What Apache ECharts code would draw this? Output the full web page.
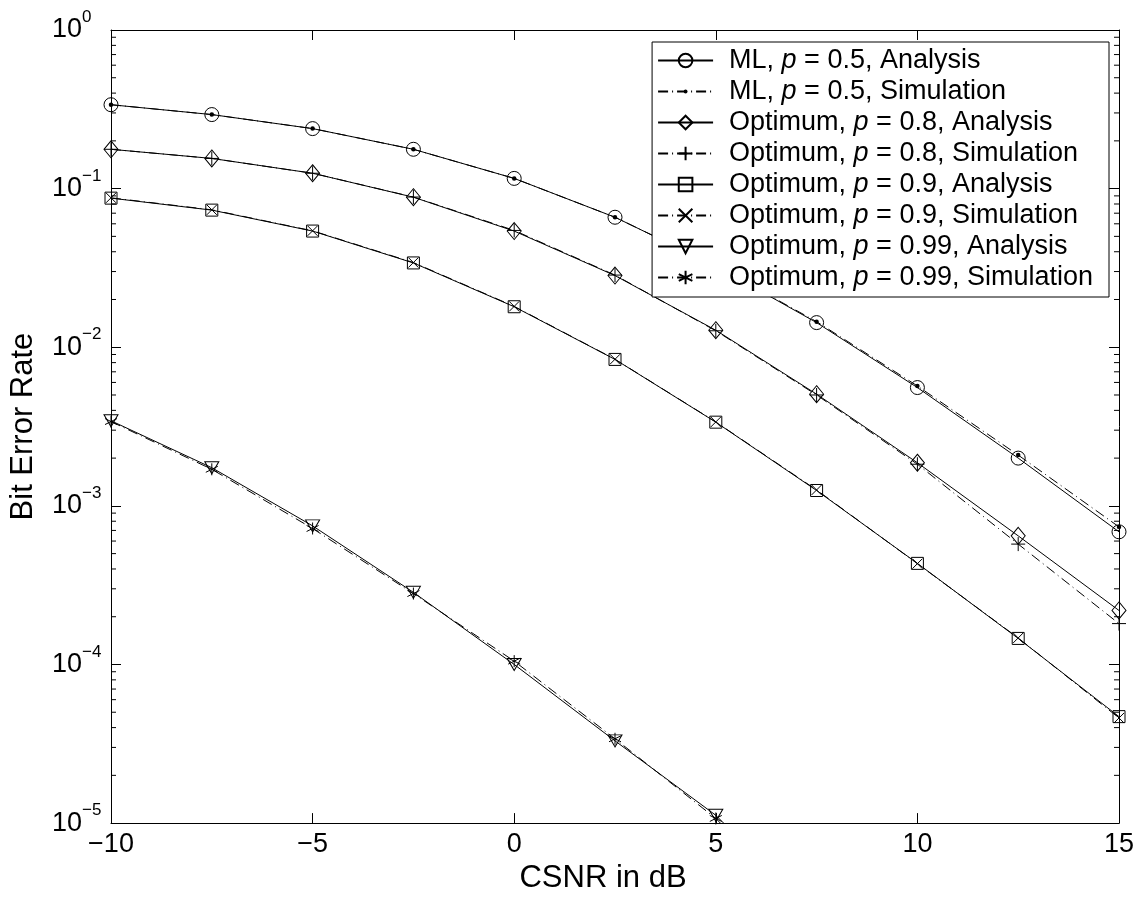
<!DOCTYPE html>
<html><head><meta charset="utf-8">
<script src="https://cdn.jsdelivr.net/npm/echarts@6/dist/echarts.min.js"></script>
<style>html,body{margin:0;padding:0;background:#fff}#c{width:1144px;height:899px}</style>
</head><body><div id="c"></div>
<script>
// ---------- data ----------
const snrDb = [-10, -7.5, -5, -2.5, 0, 2.5, 5, 7.5, 10, 12.5, 15];
const mlAnalysis   = [0.338, 0.293, 0.239, 0.177, 0.116, 0.066, 0.0325, 0.0143, 0.00557, 0.00200, 0.000686];
const mlSimulation = [0.338, 0.293, 0.239, 0.177, 0.116, 0.066, 0.0326, 0.0145, 0.00570, 0.00209, 0.000737];
const p08Analysis   = [0.177, 0.155, 0.125, 0.0883, 0.054, 0.0283, 0.0128, 0.00506, 0.00187, 0.000647, 0.000219];
const p08Simulation = [0.177, 0.155, 0.125, 0.0885, 0.0545, 0.0285, 0.0127, 0.00500, 0.00183, 0.000574, 0.000181];
const p09Analysis   = [0.0871, 0.0732, 0.054, 0.034, 0.018, 0.00838, 0.00337, 0.00125, 0.000434, 0.000146, 0.0000469];
const p09Simulation = [0.0875, 0.0735, 0.0542, 0.0342, 0.0181, 0.00840, 0.00338, 0.00126, 0.000432, 0.000147, 0.0000460];
const p099Analysis   = [0.00344, 0.00174, 0.000748, 0.000285, 0.000100, 0.0000330, 0.0000112, 0.0000026, null, null, null];
const p099Simulation = [0.00340, 0.00170, 0.000720, 0.000280, 0.000105, 0.0000340, 0.0000107, 0.0000024, null, null, null];
const seriesNames = [
  'ML, p = 0.5, Analysis', 'ML, p = 0.5, Simulation',
  'Optimum, p = 0.8, Analysis', 'Optimum, p = 0.8, Simulation',
  'Optimum, p = 0.9, Analysis', 'Optimum, p = 0.9, Simulation',
  'Optimum, p = 0.99, Analysis', 'Optimum, p = 0.99, Simulation'
];
const xTickValues = [-10, -5, 0, 5, 10, 15];
const yDecadeExponents = [-5, -4, -3, -2, -1, 0];
const yMinorMantissas = [2, 3, 4, 5, 6, 7, 8, 9];
const xTitle = 'CSNR in dB';
const yTitle = 'Bit Error Rate';

// ---------- build ----------
const FONT = 'Liberation Sans, Arial, Helvetica, sans-serif';
const pairs = ys => snrDb.map((x, i) => [x, ys[i]]);
const SYM = {
  circle: 'circle',
  dot: 'path://M0,0M10,10M3.6,5A1.4,1.4,0,1,1,6.4,5A1.4,1.4,0,1,1,3.6,5Z',
  diamond: 'diamond',
  plus: 'path://M5,0L5,10M0,5L10,5',
  square: 'rect',
  cross: 'path://M0,0L10,10M0,10L10,0',
  triangle: 'triangle',
  star: 'path://M5,0L5,10M0.67,2.5L9.33,7.5M0.67,7.5L9.33,2.5'
};
const DASHDOT = [10, 4, 1, 4];
function mkSeries(name, ys, symbol, size, dashed, opts) {
  return Object.assign({
    name: name, type: 'line', data: pairs(ys),
    symbol: symbol, symbolSize: size, showSymbol: true,
    clip: true, connectNulls: false, animation: false,
    lineStyle: { color: '#000', width: 1, type: dashed ? DASHDOT : 'solid' },
    itemStyle: { color: 'rgba(0,0,0,0)', borderColor: '#000', borderWidth: 1 },
    emphasis: { disabled: true }
  }, opts || {});
}
const series = [
  mkSeries(seriesNames[0], mlAnalysis, SYM.circle, 14, false),
  mkSeries(seriesNames[1], mlSimulation, SYM.dot, 16, true, { itemStyle: { color: '#000', borderColor: '#000', borderWidth: 0 } }),
  mkSeries(seriesNames[2], p08Analysis, SYM.diamond, [14, 17], false),
  mkSeries(seriesNames[3], p08Simulation, SYM.plus, 14, true),
  mkSeries(seriesNames[4], p09Analysis, SYM.square, 12, false),
  mkSeries(seriesNames[5], p09Simulation, SYM.cross, 10, true),
  mkSeries(seriesNames[6], p099Analysis, SYM.triangle, [14, 12], false, { symbolRotate: 180 }),
  mkSeries(seriesNames[7], p099Simulation, SYM.star, 12, true)
];
// minor log ticks drawn through the axis scales
const minorTickData = [];
yDecadeExponents.slice(0, -1).forEach(e => yMinorMantissas.forEach(m => minorTickData.push([snrDb[0], m * Math.pow(10, e)])));
series.push({
  type: 'custom', name: '_minor', silent: true, animation: false,
  data: minorTickData, encode: { x: 0, y: 1 },
  renderItem: function (params, api) {
    const y = api.value(1);
    const pl = api.coord([xTickValues[0], y]);
    const pr = api.coord([xTickValues[xTickValues.length - 1], y]);
    return { type: 'group', children: [
      { type: 'line', shape: { x1: pl[0], y1: pl[1], x2: pl[0] + 5, y2: pl[1] }, style: { stroke: '#000', lineWidth: 1 } },
      { type: 'line', shape: { x1: pr[0] - 5, y1: pr[1], x2: pr[0], y2: pr[1] }, style: { stroke: '#000', lineWidth: 1 } }
    ] };
  }
});

const minus = s => String(s).replace('-', '\u2212');
const yMin = Math.pow(10, yDecadeExponents[0]);
const yMax = Math.pow(10, yDecadeExponents[yDecadeExponents.length - 1]);
const axisLine = { show: true, onZero: false, lineStyle: { color: '#000', width: 1 } };
const majorTick = { show: true, inside: true, length: 10, lineStyle: { color: '#000', width: 1 } };

const option = {
  backgroundColor: '#fff',
  animation: false,
  grid: { left: 111, top: 30, right: 25, bottom: 72, containLabel: false },
  xAxis: [
    {
      type: 'value', position: 'bottom', min: xTickValues[0], max: xTickValues[xTickValues.length - 1], interval: 5,
      axisLine: axisLine, axisTick: majorTick, splitLine: { show: false },
      axisLabel: { show: true, color: '#000', fontFamily: FONT, fontSize: 27, margin: 8, formatter: v => minus(v) },
      name: xTitle, nameLocation: 'middle', nameGap: 37,
      nameTextStyle: { color: '#000', fontFamily: FONT, fontSize: 31, padding: [0, 24, 0, 0] }
    },
    {
      type: 'value', position: 'top', min: xTickValues[0], max: xTickValues[xTickValues.length - 1], interval: 5,
      axisLine: axisLine, axisTick: majorTick, splitLine: { show: false }, axisLabel: { show: false }
    }
  ],
  yAxis: [
    {
      type: 'log', logBase: 10, position: 'left', min: yMin, max: yMax,
      axisLine: axisLine, axisTick: majorTick, splitLine: { show: false }, minorTick: { show: false },
      axisLabel: {
        show: true, margin: 9, color: '#000', fontFamily: FONT,
        formatter: v => { const e = Math.round(Math.log10(v)); return '{b|10}{s|' + minus(e) + '}'; },
        rich: {
          b: { fontSize: 27, fontFamily: FONT, color: '#000', lineHeight: 42, align: 'left' },
          s: { fontSize: 17, fontFamily: FONT, color: '#000', lineHeight: 17, verticalAlign: 'top', width: 20, align: 'left' }
        }
      },
      name: yTitle, nameLocation: 'middle', nameGap: 72, nameRotate: 90,
      nameTextStyle: { color: '#000', fontFamily: FONT, fontSize: 31 }
    },
    {
      type: 'log', logBase: 10, position: 'right', min: yMin, max: yMax,
      axisLine: axisLine, axisTick: majorTick, splitLine: { show: false }, axisLabel: { show: false }
    }
  ],
  legend: {
    data: seriesNames, orient: 'vertical', right: 35, top: 42,
    selectedMode: false, backgroundColor: '#fff', borderColor: '#000', borderWidth: 1, borderRadius: 0,
    padding: [5, 16, 6, 5], itemWidth: 55, itemHeight: 17, itemGap: 4,
    formatter: name => { const k = name.indexOf(' p '); return '{t|' + name.slice(0, k + 1) + '}{i|p}{t|' + name.slice(k + 2) + '}'; },
    textStyle: {
      color: '#000', fontFamily: FONT, fontSize: 27, padding: [0, 0, 0, 11],
      rich: {
        t: { fontSize: 27, fontFamily: FONT, color: '#000', lineHeight: 27 },
        i: { fontSize: 27, fontFamily: FONT, color: '#000', lineHeight: 27, fontStyle: 'italic' }
      }
    }
  },
  series: series
};
const chart = echarts.init(document.getElementById('c'), null, { renderer: 'canvas' });
chart.setOption(option);
</script></body></html>
